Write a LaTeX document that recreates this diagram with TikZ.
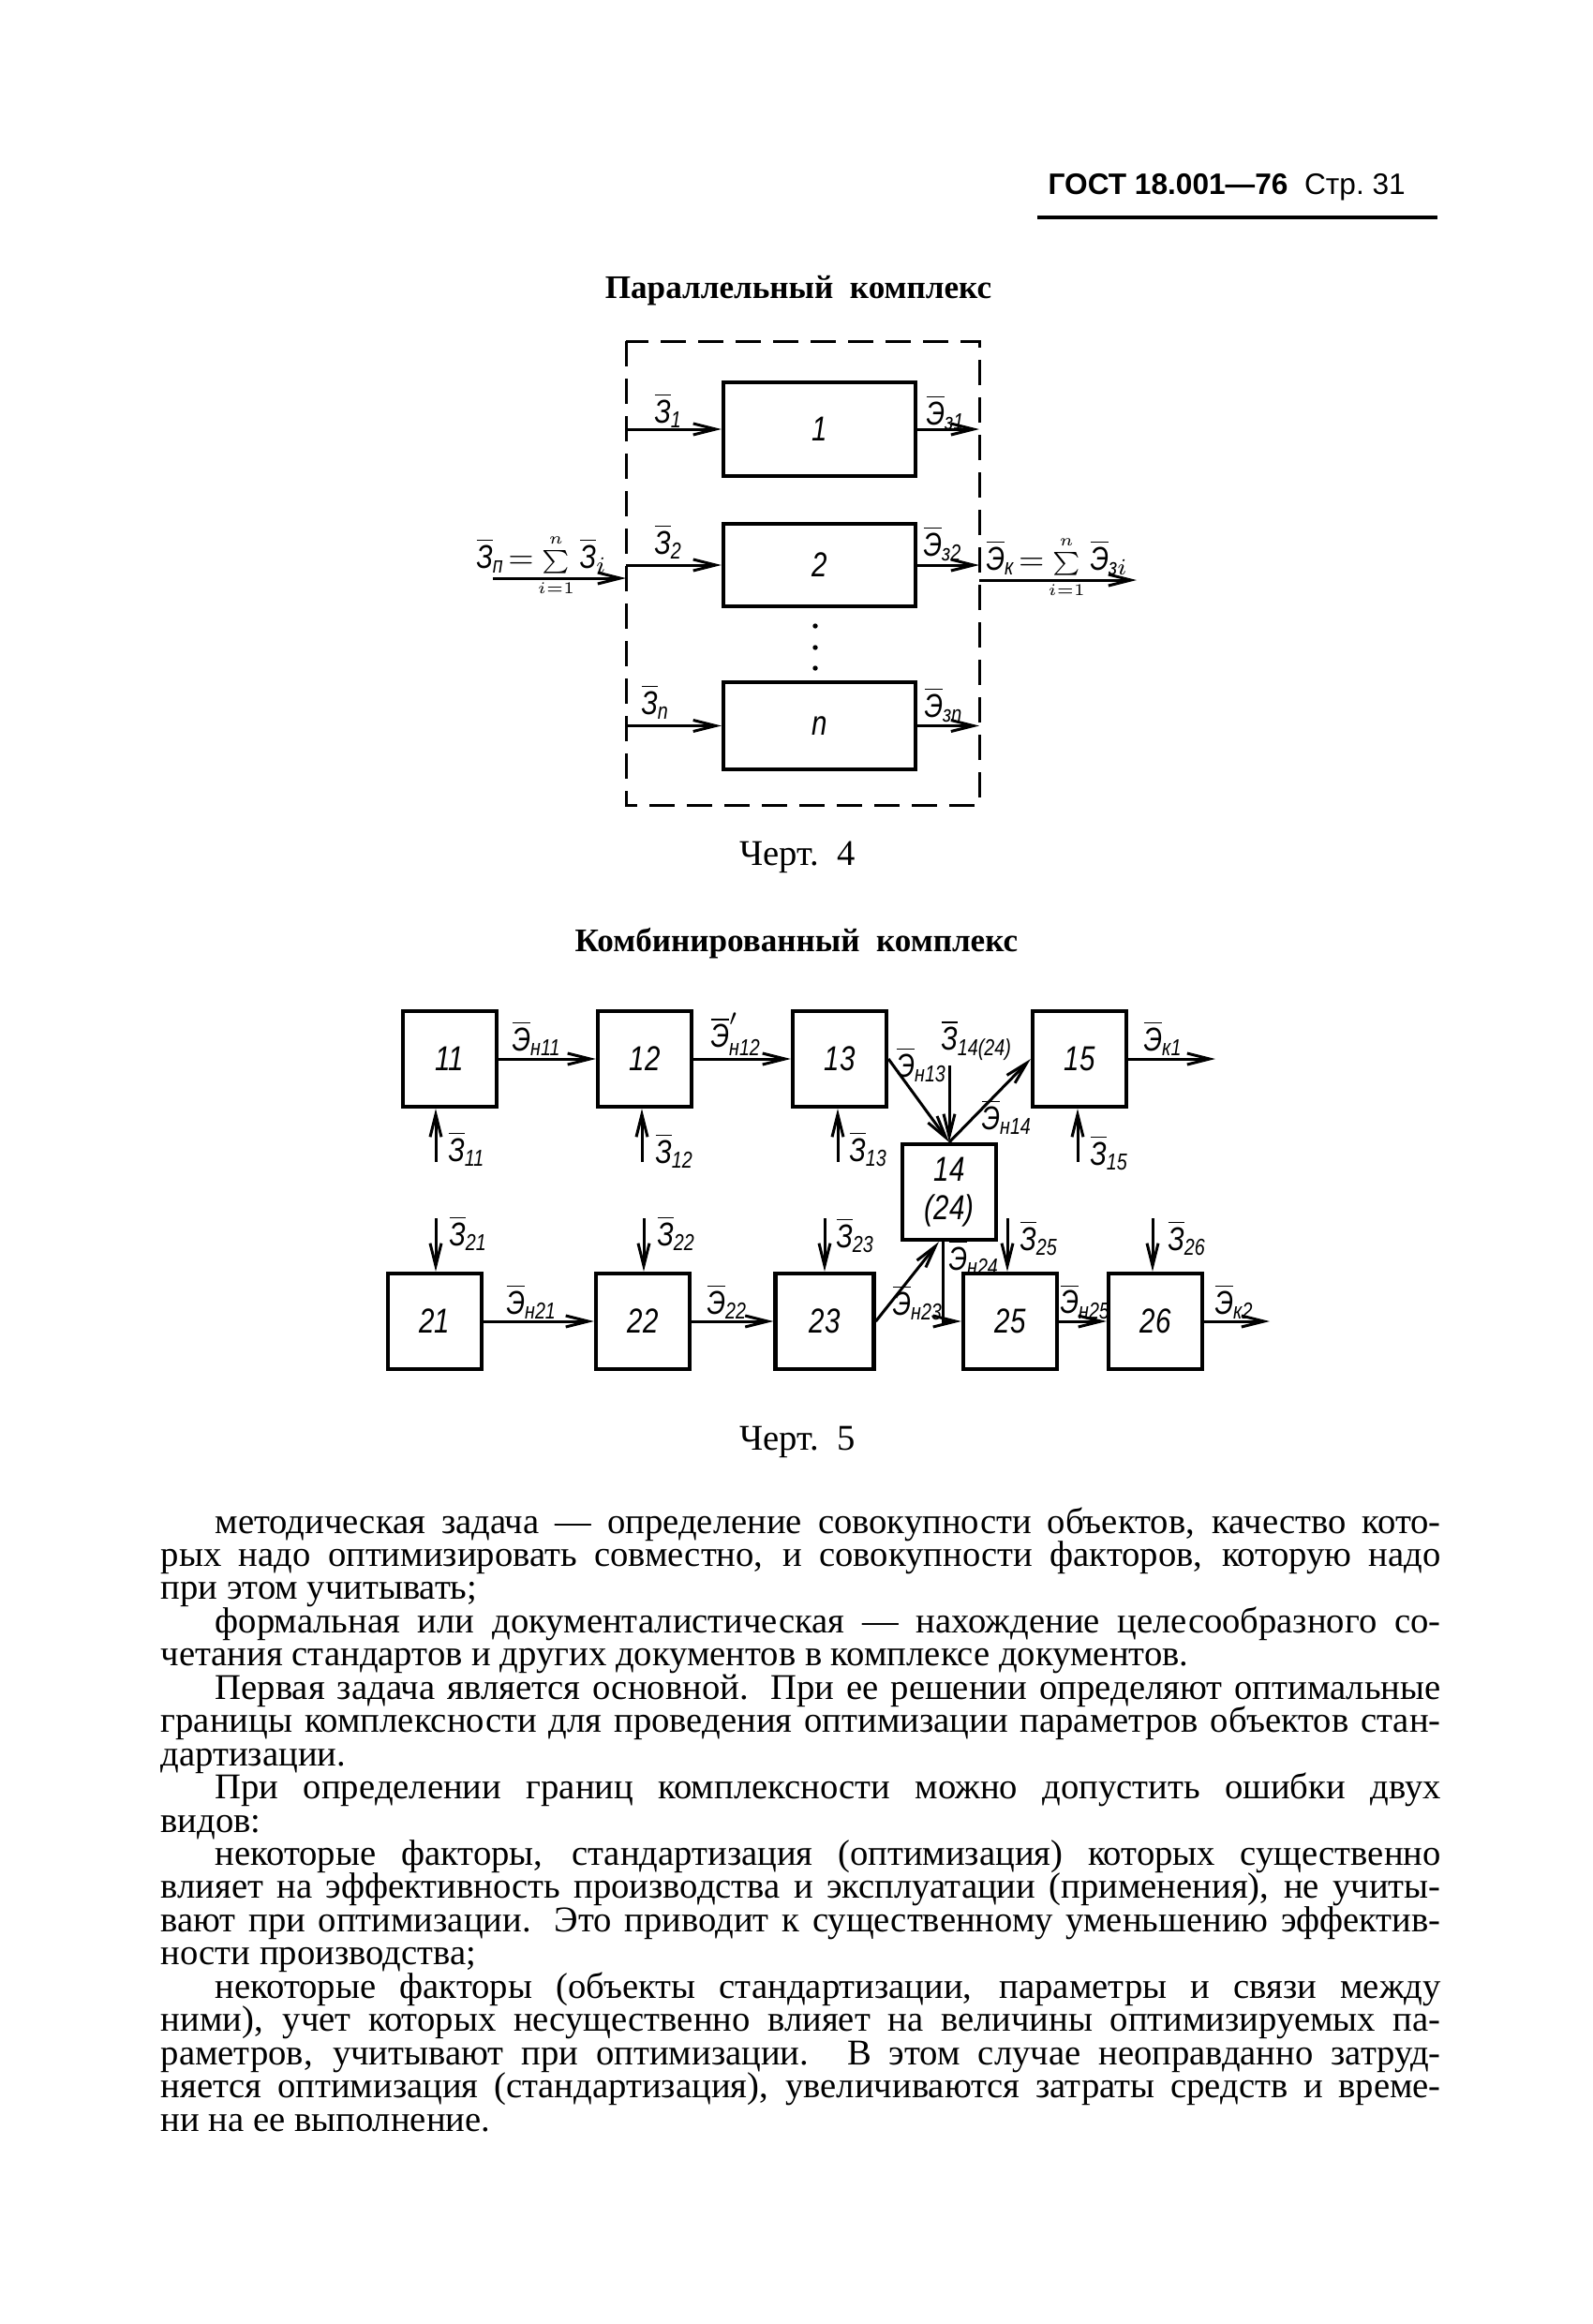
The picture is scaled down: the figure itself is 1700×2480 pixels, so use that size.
\documentclass[tikz,border=0pt]{standalone}
\usepackage{amsmath}
\usepackage{fontspec}
\setmainfont{Liberation Serif}
\newfontfamily\gostfont{Liberation Sans}
\newfontfamily\drawfont[FakeStretch=0.8]{Liberation Sans}
\usetikzlibrary{arrows.meta,positioning}
\tikzset{
  blk/.style = {draw, line width=.42mm, minimum width=10mm, minimum height=10.2mm,
    inner sep=0pt, font=\drawfont\itshape\fontsize{10.5}{11.5}\selectfont},
  pbox/.style = {blk, minimum width=20.5mm},
  flow/.style = {line width=.3mm, -{Straight Barb[length=2.4mm,width=1.2mm]}},
  frame/.style = {line width=.3mm, dash pattern=on 2.7mm off 1.3mm},
  lbl/.style = {inner sep=0pt, font=\drawfont\itshape\fontsize{10}{11}\selectfont},
  txtline/.style = {anchor=base west, inner sep=0pt, font=\fontsize{11}{12}\selectfont}
}
\newcommand\zlab[1]{$\overline{\text{З}}_{\text{#1}}$}
\newcommand\elab[1]{$\overline{\text{Э}}_{\text{#1}}$}
\newcommand\smallsum{\mathop{\scriptstyle\sum}\limits_{\scriptscriptstyle i=1}^{\scriptscriptstyle n}}

\begin{document}
\begin{tikzpicture}[x=.1mm, y=-.1mm]
  \fill[white] (0,0) rectangle (1700,2480);
  \useasboundingbox (0,0) rectangle (1700,2480);

  % page head
  \node[anchor=base west, inner sep=0pt, font=\gostfont\fontsize{9}{10}\selectfont] (head)
    at (1118,207) {\textbf{ГОСТ 18.001—76}\ \ Стр.\ 31};
  \draw[line width=.4mm] (1107,232) -- (1534,232);

  % parallel complex
  \node[anchor=base, inner sep=0pt, font=\bfseries\fontsize{10}{12}\selectfont] (title4)
    at (852,318) {Параллельный\ \ комплекс};
  \coordinate (fr1) at (668,364);
  \coordinate (fr2) at (1045,859);
  \draw[frame] (fr1) rectangle (fr2);
  \node[pbox, minimum height=10mm] (p1) at (874.5,458) {1};
  \node[pbox, minimum height=8.8mm] (p2) at (874.5,603) {2};
  \node[pbox, minimum height=9.3mm] (pn) at (874.5,774.5) {n};
  \foreach \i in {1,2,n} {
    \draw[flow] (p\i.west -| fr1) -- (p\i.west);
    \draw[flow] (p\i.east) -- (p\i.east -| fr2);
  }
  \foreach \y in {668,691,713} \fill (870,\y) circle (.27mm);
  \coordinate (pin) at (526,617);
  \coordinate (pout) at (1213,619);
  \draw[flow] (pin) -- (pin -| fr1);
  \draw[flow] (pout -| fr2) -- (pout);
  \node[lbl, anchor=west] (lz1) at (698,438) {\zlab{1}};
  \node[lbl, anchor=west] (lz2) at (698,578) {\zlab{2}};
  \node[lbl, anchor=west] (lzn) at (684,749) {\zlab{n}};
  \node[lbl, anchor=west] (le1) at (988,440) {\elab{з1}};
  \node[lbl, anchor=west] (le2) at (985,580) {\elab{з2}};
  \node[lbl, anchor=west] (len) at (986,752) {\elab{зn}};
  \node[lbl, anchor=base west] (lsum) at (508,606)
    {$\overline{\text{З}}_{\text{п}}\!=\!\smallsum\overline{\text{З}}_{i}$};
  \node[lbl, anchor=base west] (lsumk) at (1052,608)
    {$\overline{\text{Э}}_{\text{к}}\!=\!\smallsum\overline{\text{Э}}_{\text{з}i}$};
  \node[anchor=base, inner sep=0pt, font=\fontsize{11}{12}\selectfont] (cap4)
    at (851,923) {Черт.\ \ 4};

  % combined complex
  \node[anchor=base, inner sep=0pt, font=\bfseries\fontsize{10}{12}\selectfont] (title5)
    at (850,1015) {Комбинированный\ \ комплекс};
  \node[blk] (b11) at (480,1130) {11};
  \node[blk] (b12) at (688,1130) {12};
  \node[blk] (b13) at (896,1130) {13};
  \node[blk] (b15) at (1152,1130) {15};
  \node[blk, align=center] (b14) at (1013,1272) {14\\(24)};
  \node[blk] (b21) at (464,1410) {21};
  \node[blk] (b22) at (686,1410) {22};
  \node[blk, minimum width=10.5mm] (b23) at (880,1410) {23};
  \node[blk] (b25) at (1078,1410) {25};
  \node[blk] (b26) at (1233,1410) {26};
  \coordinate (z14) at (1013,1137);
  \coordinate (k1) at (1297,1130);
  \coordinate (k2) at (1355,1410);
  \draw[flow] (b11) -- (b12);
  \draw[flow] (b12) -- (b13);
  \draw[flow] (b13.east) -- (b14.north);
  \draw[flow] (z14) -- (b14.north);
  \draw[flow] (b14.north) -- (b15.west);
  \draw[flow] (b15) -- (k1);
  \draw[flow] (b21) -- (b22);
  \draw[flow] (b22) -- (b23);
  \draw[flow] (b23.east) -- ([xshift=-1.1mm]b14.south);
  \draw[flow] ([xshift=-.7mm]b14.south) |- (b25.west);
  \draw[flow] (b25) -- (b26);
  \draw[flow] (b26) -- (k2);
  \foreach \b/\x in {11/465,12/685,13/894,15/1150} {
    \coordinate (z\b) at (\x,1240);
    \draw[flow] (z\b) -- (z\b |- b\b.south);
  }
  \foreach \b/\x in {21/465,22/687,23/880,25/1075,26/1230} {
    \coordinate (z\b) at (\x,1300);
    \draw[flow] (z\b) -- (z\b |- b\b.north);
  }
  \foreach \b/\x/\y in {11/478/1226,12/699/1228,13/906/1226,15/1163/1230,
      21/479/1316,22/701/1316,23/892/1318,25/1088/1321,26/1246/1321}
    \node[lbl, anchor=west] (lz\b) at (\x,\y) {\zlab{\b}};
  \node[lbl, anchor=west] (lz14) at (1004,1110) {\zlab{14(24)}};
  \node[lbl, anchor=south west] (le11) at (546,1127) {\elab{н11}};
  \node[lbl, anchor=south west] (le12) at (758,1127) {$\overline{\text{Э}}'_{\text{н12}}$};
  \node[lbl, anchor=west] (le13) at (956,1136) {\elab{н13}};
  \node[lbl, anchor=west] (le14) at (1047,1192) {\elab{н14}};
  \node[lbl, anchor=south west] (lk1) at (1220,1127) {\elab{к1}};
  \node[lbl, anchor=west] (le24) at (1012,1342) {\elab{н24}};
  \node[lbl, anchor=south west] (le21) at (540,1408) {\elab{н21}};
  \node[lbl, anchor=south west] (le22) at (754,1408) {\elab{22}};
  \node[lbl, anchor=west] (le23) at (952,1390) {\elab{н23}};
  \node[lbl, anchor=south west] (le25) at (1131,1408) {\elab{н25}};
  \node[lbl, anchor=south west] (lk2) at (1296,1408) {\elab{к2}};
  \node[anchor=base, inner sep=0pt, font=\fontsize{11}{12}\selectfont] (cap5)
    at (851,1547) {Черт.\ \ 5};

  % text
  \foreach \n/\x/\w/\al/\linetext in {
    1/229/130.8/s/{методическая задача — определение совокупности объектов, качество кото-},
    2/171/136.6/s/{рых надо оптимизировать совместно, и совокупности факторов, которую надо},
    3/171/136.6/l/{при этом учитывать;},
    4/229/130.8/s/{формальная или документалистическая — нахождение целесообразного со-},
    5/171/136.6/l/{четания стандартов и других документов в комплексе документов.},
    6/229/130.8/s/{Первая задача является основной. При ее решении определяют оптимальные},
    7/171/136.6/s/{границы комплексности для проведения оптимизации параметров объектов стан-},
    8/171/136.6/l/{дартизации.},
    9/229/130.8/s/{При определении границ комплексности можно допустить ошибки двух},
    10/171/136.6/l/{видов:},
    11/229/130.8/s/{некоторые факторы, стандартизация (оптимизация) которых существенно},
    12/171/136.6/s/{влияет на эффективность производства и эксплуатации (применения), не учиты-},
    13/171/136.6/s/{вают при оптимизации. Это приводит к существенному уменьшению эффектив-},
    14/171/136.6/l/{ности производства;},
    15/229/130.8/s/{некоторые факторы (объекты стандартизации, параметры и связи между},
    16/171/136.6/s/{ними), учет которых несущественно влияет на величины оптимизируемых па-},
    17/171/136.6/s/{раметров, учитывают при оптимизации. В этом случае неоправданно затруд-},
    18/171/136.6/s/{няется оптимизация (стандартизация), увеличиваются затраты средств и време-},
    19/171/136.6/l/{ни на ее выполнение.}}
    \node[txtline] (t\n) at (\x,{1636+(\n-1)*35.45}) {\makebox[\w mm][\al]{\linetext}};
\end{tikzpicture}
\end{document}
